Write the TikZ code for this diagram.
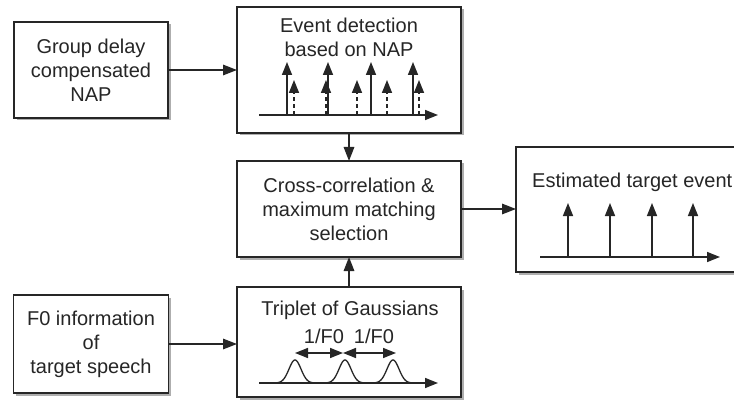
\documentclass[tikz,border=0pt]{standalone}
\usepackage{fontspec}
\setmainfont{Liberation Sans}
\usetikzlibrary{arrows.meta,shadows}
\begin{document}
\begin{tikzpicture}[x=1pt,y=-1pt,
  box/.style={draw=black!85, line width=1.8pt, fill=white, inner sep=0pt, outer sep=0pt,
    drop shadow={shadow xshift=2.5pt, shadow yshift=-2.5pt, opacity=0.45, fill=black!70}},
  lbl/.style={font=\fontsize{20}{24}\selectfont, text=black!85, align=center},
  txt/.style={font=\fontsize{20}{24}\selectfont, text=black!85, inner sep=0pt},
  conn/.style={line width=1.5pt, draw=black!85, -{Triangle[length=14pt,width=10.5pt]}},
  sig/.style={line width=1.5pt, draw=black!85, -{Triangle[length=13pt,width=10pt]}},
  dsig/.style={sig, dash pattern=on 4pt off 3pt},
  gauss/.style={line width=1.3pt, draw=black!85},
]
\useasboundingbox (0,0) rectangle (734,401);

% boxes
\node[box, lbl, minimum width=154pt, minimum height=96pt] (b1) at (91,70)
  {Group delay\\compensated\\NAP};
\node[box, minimum width=224pt, minimum height=126pt] (b2) at (349,70) {};
\node[box, lbl, minimum width=224pt, minimum height=96pt] (b3) at (349,209)
  {Cross-correlation \&\\maximum matching\\selection};
\node[box, minimum width=224pt, minimum height=110pt] (b4) at (349,342) {};
\node[box, lbl, minimum width=155pt, minimum height=98pt] (b5) at (91,344)
  {F0 information\\of\\target speech};
\node[box, minimum width=230pt, minimum height=125pt] (b6) at (631,209.5) {};

% titles
\node[txt, anchor=base] (t2a) at (349,33) {Event detection};
\node[txt, anchor=base] (t2b) at (349,57) {based on NAP};
\node[txt, anchor=base] (t4) at (350,315) {Triplet of Gaussians};
\node[txt, anchor=base west] (t6) at (532,187) {Estimated target event};
\node[txt, anchor=base] (f1) at (324,343) {1/F0};
\node[txt, anchor=base] (f2) at (374,343) {1/F0};

% event detection signals
\draw[sig] (259,115) -- (438,115);
\foreach \x in {287,328,371,413} \draw[sig] (\x,115) -- (\x,62);
\foreach \x in {294,326,357,387,419} \draw[dsig] (\x,115) -- (\x,80);

% triplet of gaussians
\draw[sig] (259,383) -- (438,383);
\foreach \c in {295,345,393}
  \draw[gauss] plot[domain=-19:19, samples=70, smooth] ({\c+\x},{383-23*exp(-(\x/8.5)*(\x/8.5))});
\draw[line width=1.5pt, draw=black!85, {Triangle[length=13pt,width=10pt]}-{Triangle[length=13pt,width=10pt]}] (295,353) -- (343,353);
\draw[line width=1.5pt, draw=black!85, {Triangle[length=13pt,width=10pt]}-{Triangle[length=13pt,width=10pt]}] (343,353) -- (396,353);

% estimated target events
\draw[sig] (540,257) -- (720,257);
\foreach \x in {568,610,652,693} \draw[sig] (\x,257) -- (\x,203);

% connectors
\draw[conn] (b1.east) -- (b1.east -| b2.west);
\draw[conn] (b5.east) -- (b5.east -| b4.west);
\draw[conn] (b2.south) -- (b3.north);
\draw[conn] (b4.north) -- (b3.south);
\draw[conn] (b3.east) -- (b3.east -| b6.west);
\end{tikzpicture}
\end{document}
